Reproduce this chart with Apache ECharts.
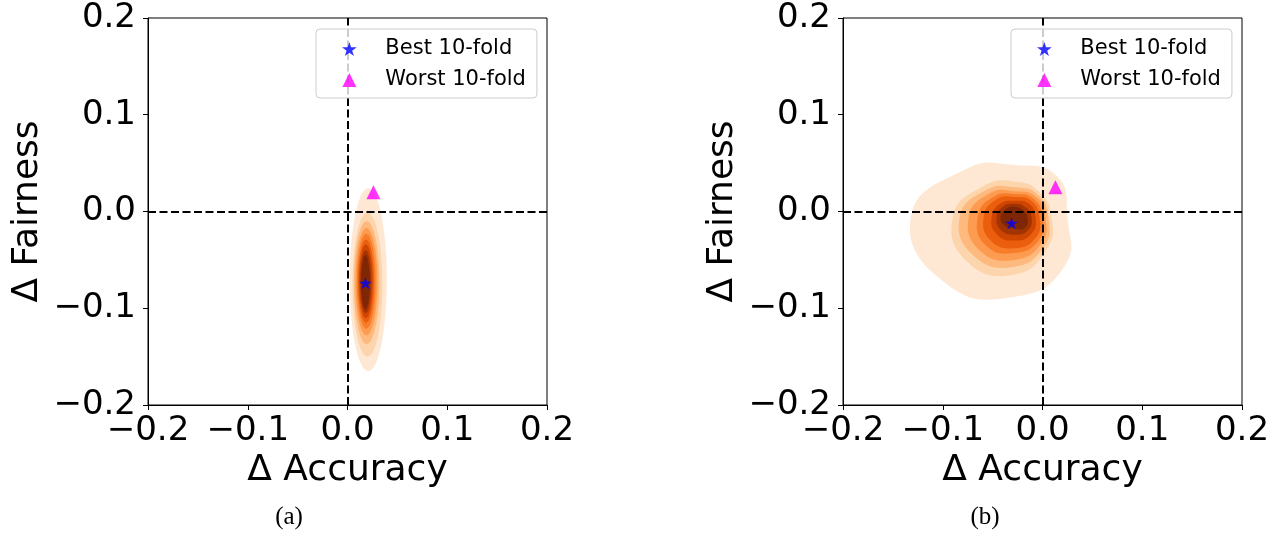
<!DOCTYPE html>
<html>
<head>
<meta charset="utf-8">
<script src="https://cdn.jsdelivr.net/npm/echarts@6/dist/echarts.min.js"></script>
<style>
  html, body { margin: 0; padding: 0; background: #ffffff; }
  #chart { width: 1286px; height: 542px; }
</style>
</head>
<body>
<div id="chart"></div>
<script>
// Axis ticks shared by both panels (Δ Accuracy on x, Δ Fairness on y)
const axisTicks = [-0.2, -0.1, 0.0, 0.1, 0.2];
const seriesNames = ['Best 10-fold', 'Worst 10-fold'];
const captions = ['(a)', '(b)'];

// Best / worst 10-fold results: [Δ Accuracy, Δ Fairness]
const bestA = [0.018, -0.074];
const worstA = [0.026, 0.020];
const bestB = [-0.031, -0.012];
const worstB = [0.013, 0.025];

// Filled density levels, lowest (outer) to highest (inner)
const levelColors = ['#fee8d3', '#fdd5ac', '#fdb97e', '#fd9c51', '#f87d2a',
                     '#ea5e0d', '#ce4401', '#a23403', '#7f2704'];

// Panel (a): each density level as an ellipse [cx, cy, rx, ry]
const densityA = [
  [0.0208, -0.0705, 0.0186, 0.0945],
  [0.0200, -0.0755, 0.0150, 0.0745],
  [0.0192, -0.0735, 0.0128, 0.0635],
  [0.0190, -0.0725, 0.0110, 0.0555],
  [0.0188, -0.0720, 0.0094, 0.0490],
  [0.0186, -0.0720, 0.0080, 0.0430],
  [0.0184, -0.0720, 0.0068, 0.0380],
  [0.0182, -0.0725, 0.0056, 0.0325],
  [0.0180, -0.0730, 0.0044, 0.0280]
];

// Panel (b): each density level as radii around a centre,
// at 0°, 45°, 90°, ... 315° (counter-clockwise from +x)
const densityBCentre = [-0.028, -0.006];
const densityB = [
  [0.053, 0.060, 0.054, 0.070, 0.104, 0.097, 0.082, 0.071],
  [0.037, 0.036, 0.037, 0.045, 0.062, 0.066, 0.059, 0.046],
  [0.034, 0.033, 0.031, 0.040, 0.055, 0.057, 0.051, 0.042],
  [0.031, 0.030, 0.027, 0.035, 0.046, 0.049, 0.044, 0.038],
  [0.028, 0.027, 0.024, 0.030, 0.037, 0.041, 0.037, 0.034],
  [0.025, 0.024, 0.021, 0.026, 0.031, 0.034, 0.032, 0.030],
  [0.021, 0.020, 0.017, 0.020, 0.023, 0.025, 0.024, 0.024],
  [0.017, 0.015, 0.014, 0.016, 0.018, 0.019, 0.018, 0.019],
  [0.013, 0.011, 0.011, 0.012, 0.014, 0.013, 0.012, 0.015]
];

const FONT = '"DejaVu Sans", "Noto Sans", sans-serif';
const SERIF = '25px "Liberation Serif", "DejaVu Serif", serif';
const STAR = 'path://M0,-10 L2.245,-3.09 L9.511,-3.09 L3.633,1.18 L5.878,8.09 L0,3.82 ' +
             'L-5.878,8.09 L-3.633,1.18 L-9.511,-3.09 L-2.245,-3.09 Z';
const TRIANGLE = 'path://M0,-10 L10,10 L-10,10 Z';

function ellipseRing(e) {
  const pts = [];
  for (let k = 0; k < 72; k++) {
    const t = (k / 72) * Math.PI * 2;
    pts.push([e[0] + e[2] * Math.cos(t), e[1] + e[3] * Math.sin(t)]);
  }
  return pts;
}
function radialRing(centre, radii) {
  return radii.map((r, k) => {
    const t = (k / radii.length) * Math.PI * 2;
    return [centre[0] + r * Math.cos(t), centre[1] + r * Math.sin(t)];
  });
}

const ringsA = densityA.map(ellipseRing);
const ringsB = densityB.map(r => radialRing(densityBCentre, r));

function tickLabel(v) {
  const s = Math.abs(v).toFixed(1);
  return (v < -1e-9 ? '\u2212' : '') + s;
}

function densitySeries(idx, rings, smooth) {
  return {
    type: 'custom',
    xAxisIndex: idx, yAxisIndex: idx,
    silent: true, z: 1,
    data: rings.map((r, i) => [r[0][0], r[0][1], i]),
    renderItem: function (params, api) {
      const ring = rings[params.dataIndex];
      const pts = ring.map(p => api.coord(p));
      return {
        type: 'polygon',
        shape: { points: pts, smooth: smooth },
        style: { fill: levelColors[params.dataIndex], stroke: null }
      };
    }
  };
}

function zeroLines(idx) {
  return {
    type: 'line', xAxisIndex: idx, yAxisIndex: idx, data: [], z: 3,
    markLine: {
      silent: true, symbol: ['none', 'none'], label: { show: false },
      lineStyle: { color: '#000000', width: 2, type: [8, 3.5] },
      data: [{ xAxis: 0 }, { yAxis: 0 }]
    }
  };
}

function pointSeries(idx, best, worst) {
  return [
    { name: seriesNames[0], type: 'scatter', xAxisIndex: idx, yAxisIndex: idx, z: 5,
      symbol: STAR, symbolSize: 13, symbolKeepAspect: true,
      itemStyle: { color: '#0000ff' }, data: [best] },
    { name: seriesNames[1], type: 'scatter', xAxisIndex: idx, yAxisIndex: idx, z: 5,
      symbol: TRIANGLE, symbolSize: 14, symbolKeepAspect: true,
      itemStyle: { color: '#ff00ff' }, data: [worst] }
  ];
}

function xAxis(idx) {
  return {
    type: 'value', gridIndex: idx,
    min: axisTicks[0], max: axisTicks[axisTicks.length - 1], interval: 0.1,
    name: '\u0394 Accuracy', nameLocation: 'middle', nameGap: 42,
    nameTextStyle: { fontSize: 36, fontFamily: FONT, color: '#000' },
    axisLine: { show: true, onZero: false, lineStyle: { color: '#000', width: 1 } },
    axisTick: { show: true, inside: false, length: 5, lineStyle: { color: '#000', width: 1 } },
    axisLabel: { formatter: tickLabel, fontSize: 34, fontFamily: FONT, color: '#000', margin: 9,
                 showMinLabel: true, showMaxLabel: true, hideOverlap: false },
    splitLine: { show: false }
  };
}
function yAxis(idx) {
  return {
    type: 'value', gridIndex: idx,
    min: axisTicks[0], max: axisTicks[axisTicks.length - 1], interval: 0.1,
    name: '\u0394 Fairness', nameLocation: 'middle', nameGap: 102, nameRotate: 90,
    nameTextStyle: { fontSize: 36, fontFamily: FONT, color: '#000' },
    axisLine: { show: true, onZero: false, lineStyle: { color: '#000', width: 1 } },
    axisTick: { show: true, inside: false, length: 5, lineStyle: { color: '#000', width: 1 } },
    axisLabel: { formatter: tickLabel, fontSize: 34, fontFamily: FONT, color: '#000', margin: 12,
                 showMinLabel: true, showMaxLabel: true, hideOverlap: false },
    splitLine: { show: false }
  };
}

function legend(left) {
  return {
    data: [
      { name: seriesNames[0], icon: STAR },
      { name: seriesNames[1], icon: TRIANGLE }
    ],
    orient: 'vertical', left: left, top: 29, symbolKeepAspect: true,
    padding: [9, 11, 7, 26], itemWidth: 62, itemHeight: 14, itemGap: 9,
    textStyle: { fontSize: 21, fontFamily: FONT, color: '#000', lineHeight: 22 },
    borderColor: '#cccccc', borderWidth: 1, borderRadius: 4,
    backgroundColor: 'rgba(255,255,255,0.8)', selectedMode: false, z: 10
  };
}

const chart = echarts.init(document.getElementById('chart'), null, { renderer: 'canvas' });
chart.setOption({
  animation: false,
  backgroundColor: '#ffffff',
  grid: [
    { left: 148, top: 18, width: 399, height: 387, show: true, borderColor: '#000', borderWidth: 1,
      backgroundColor: 'transparent', containLabel: false, outerBoundsMode: 'none' },
    { left: 843, top: 18, width: 399, height: 387, show: true, borderColor: '#000', borderWidth: 1,
      backgroundColor: 'transparent', containLabel: false, outerBoundsMode: 'none' }
  ],
  xAxis: [xAxis(0), xAxis(1)],
  yAxis: [yAxis(0), yAxis(1)],
  legend: [legend(316), legend(1011)],
  graphic: [
    { type: 'text', x: 289, y: 517, style: { text: captions[0], font: SERIF, fill: '#000', align: 'center', verticalAlign: 'middle' } },
    { type: 'text', x: 985, y: 517, style: { text: captions[1], font: SERIF, fill: '#000', align: 'center', verticalAlign: 'middle' } }
  ],
  series: [
    densitySeries(0, ringsA, 0),
    densitySeries(1, ringsB, 0.5),
    zeroLines(0),
    zeroLines(1),
    ...pointSeries(0, bestA, worstA),
    ...pointSeries(1, bestB, worstB)
  ]
});
</script>
</body>
</html>
